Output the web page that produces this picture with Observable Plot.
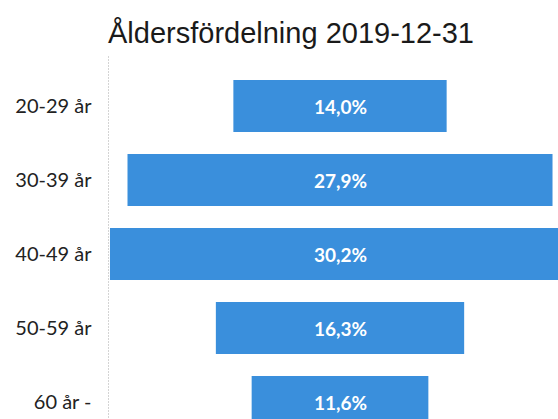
<!DOCTYPE html>
<html>
<head>
<meta charset="utf-8">
<script src="https://cdn.jsdelivr.net/npm/d3@7"></script>
<script src="https://cdn.jsdelivr.net/npm/@observablehq/plot@0.6"></script>
<style>
  html, body { margin: 0; padding: 0; background: #fff; overflow: hidden; }
  #wrap { width: 558px; height: 419px; overflow: hidden; position: relative; }
  #title { height: 56px; box-sizing: border-box; padding-top: 17px; padding-left: 24px;
           font-family: "Liberation Sans", Arial, sans-serif; font-size: 29px; line-height: 33px;
           text-align: center; color: #1a1a1a; white-space: nowrap; }
  svg { display: block; }
</style>
</head>
<body>
<div id="wrap">
  <div id="title">Åldersfördelning 2019-12-31</div>
  <div id="chart"></div>
</div>
<script>
const categories = ["20-29 år", "30-39 år", "40-49 år", "50-59 år", "60 år -"];
const shares = [14.0, 27.9, 30.2, 16.3, 11.6];

const data = categories.map((c, i) => ({
  group: c,
  value: shares[i],
  lo: -shares[i] / 2,
  hi: shares[i] / 2,
  mid: 0,
  label: shares[i].toFixed(1).replace(".", ",") + "%"
}));

const chart = Plot.plot({
  width: 558,
  height: 363,
  marginTop: 0,
  marginBottom: -33,
  marginLeft: 108,
  marginRight: 0,
  style: { fontFamily: "Lato, 'Open Sans', sans-serif", background: "transparent", overflow: "hidden" },
  x: { domain: [-15.23, 14.31], axis: null },
  y: { domain: categories, padding: 0.3, label: null },
  marks: [
    Plot.frame({ anchor: "left", stroke: "#d4d4d4", strokeDasharray: "1,2" }),
    Plot.barX(data, { y: "group", x1: "lo", x2: "hi", fill: "#3a8fdc" }),
    Plot.text(data, { y: "group", x: "mid", text: "label", fill: "white", fontSize: 19,
                      fontWeight: "bold", fontFamily: "Lato, sans-serif", dy: 1 }),
    Plot.axisY({ tickSize: 0, tickPadding: 17, fontSize: 20, fill: "#222", label: null,
                 fontFamily: "Lato, sans-serif" })
  ]
});
document.getElementById("chart").appendChild(chart);
</script>
</body>
</html>
